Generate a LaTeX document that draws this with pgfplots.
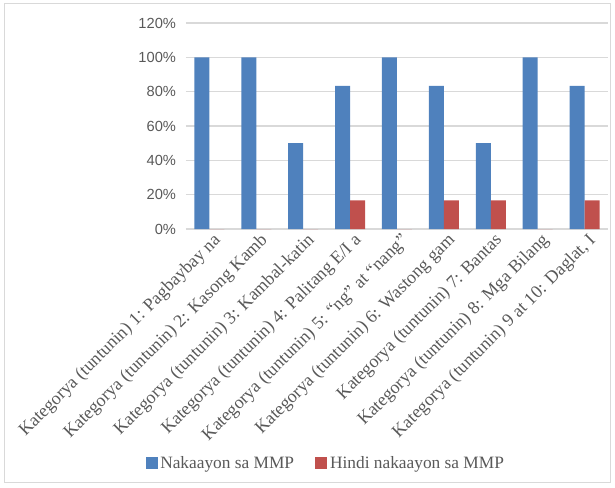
\documentclass[border=0pt]{standalone}
\usepackage{pgfplots}
\pgfplotsset{compat=1.18}
\usepackage{fontspec}
\setmainfont{Liberation Serif}
\newfontfamily\tickfont{Liberation Sans}
\definecolor{barblue}{HTML}{4F81BD}
\definecolor{barred}{HTML}{C0504D}
\definecolor{gridgray}{HTML}{D9D9D9}
\definecolor{textgray}{HTML}{595959}
\begin{document}
\begin{tikzpicture}
\useasboundingbox (-139.5pt,-193.5pt) rectangle (321.75pt,171.75pt);
\draw[gridgray] (-136pt,-190pt) rectangle (318pt,169.5pt);
\begin{axis}[
  at={(0,0)}, anchor=south west,
  scale only axis, width=316.5pt, height=154.5pt,
  ybar=0pt, bar width=0.32,
  xmin=-0.5, xmax=8.5, ymin=0, ymax=120,
  ytick={0,20,...,120},
  yticklabel={\pgfmathprintnumber{\tick}\%},
  /pgf/number format/assume math mode=true,
  yticklabel style={font=\tickfont\fontsize{11}{12}\selectfont, text=textgray, xshift=-4pt},
  ymajorgrids, grid style={gridgray, line width=0.8pt},
  axis x line*=bottom, axis y line*=left,
  x axis line style={gridgray, line width=0.8pt, -},
  y axis line style={draw=none},
  major tick length=0pt,
  xtick=data,
  xticklabels={
    {Kategorya (tuntunin) 1: Pagbaybay na},
    {Kategorya (tuntunin) 2: Kasong Kamb},
    {Kategorya (tuntunin) 3: Kambal-katin},
    {Kategorya (tuntunin) 4: Palitang E/I a},
    {Kategorya (tuntunin) 5: “ng” at “nang”},
    {Kategorya (tuntunin) 6: Wastong gam},
    {Kategorya (tuntunin) 7: Bantas},
    {Kategorya (tuntunin) 8: Mga Bilang},
    {Kategorya (tuntunin) 9 at 10: Daglat, I}},
  xticklabel style={rotate=45, anchor=north east, font=\fontsize{13.5}{14}\selectfont, text=textgray, inner sep=1pt, xshift=1pt, yshift=-2pt},
  legend style={at={(0.332,-1.136)}, anchor=center, draw=none, legend columns=2,
    font=\fontsize{13}{14}\selectfont, text=textgray,
    /tikz/every even column/.append style={column sep=14pt}},
  legend image code/.code={\fill[#1] (0pt,-4.5pt) rectangle (9pt,4.5pt);},
  clip=false,
]
\addplot[fill=barblue, draw=none] coordinates {(0,100) (1,100) (2,50) (3,83.33) (4,100) (5,83.33) (6,50) (7,100) (8,83.33)};
\addplot[fill=barred, draw=none] coordinates {(0,0) (1,0) (2,0) (3,16.67) (4,0) (5,16.67) (6,16.67) (7,0) (8,16.67)};
\legend{Nakaayon sa MMP, Hindi nakaayon sa MMP}
\end{axis}
\end{tikzpicture}
\end{document}
